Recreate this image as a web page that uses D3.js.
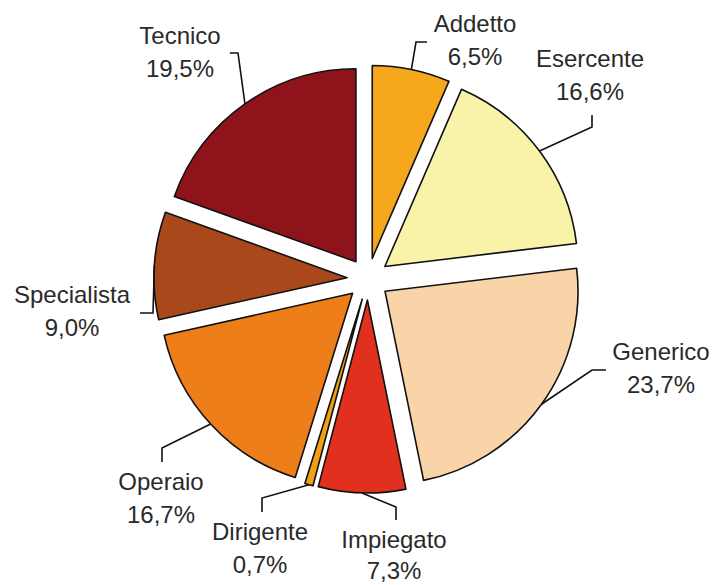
<!DOCTYPE html>
<html>

<head>
    <meta charset="utf-8">
    <style>
        body {
            margin: 0;
            background: white;
        }

        svg {
            display: block;
            font-family: 'Liberation Sans', Arial, sans-serif;
        }

        .label {
            font-size: 24px;
            fill: #2a2a2a;
            text-anchor: middle;
        }
    </style>
</head>

<body>
    <svg width="714" height="585"></svg>
</body>

<script src="https://d3js.org/d3.v7.min.js"></script>

<script>
    // data, clockwise from 12 o'clock
    let categories = ["Addetto", "Esercente", "Generico", "Impiegato", "Dirigente", "Operaio", "Specialista", "Tecnico"];
    let values = [6.5, 16.6, 23.7, 7.3, 0.7, 16.7, 9.0, 19.5];
    let colors = ["#f5a81c", "#f9f2a9", "#f9d4a9", "#e2301f", "#f0a010", "#ee7e1a", "#a9481a", "#8f131b"];

    // where the labels sit (hand placed like in the original)
    let labelPos = [[475, 32], [590, 67], [661, 360], [394, 548], [260, 540], [161, 490], [72, 303], [180, 44]];
    // elbow of each leader line, then its end near the text
    let leaderPts = [
        [[416, 42], [427, 42]],
        [[592, 127], [592, 115]],
        [[592, 370], [606, 370]],
        [[396, 507], [396, 520]],
        [[262, 498], [262, 512]],
        [[162, 448], [162, 462]],
        [[153, 313], [140, 313]],
        [[238, 53], [230, 53]]
    ];

    let cx = 368, cy = 279;
    let r = 193;
    let explode = 21;

    let svg = d3.select("svg");

    let it = d3.formatLocale({ decimal: ",", thousands: ".", grouping: [3], currency: ["", "€"] });
    let fmt = it.format(".1f");

    let rows = categories.map((c, i) => ({ name: c, value: values[i], color: colors[i], i: i }));

    let pie = d3.pie()
        .sort(null)
        .value(d => d.value);

    let arcs = pie(rows);

    let arc = d3.arc()
        .innerRadius(0)
        .outerRadius(r);

    // arc with zero thickness at the rim, used to find where leaders touch
    let rim = d3.arc()
        .innerRadius(r)
        .outerRadius(r);

    function shift(d) {
        let mid = (d.startAngle + d.endAngle) / 2;
        return [explode * Math.sin(mid), -explode * Math.cos(mid)];
    }

    let g = svg.append("g")
        .attr("transform", "translate(" + cx + "," + cy + ")");

    g.selectAll("path.slice")
        .data(arcs)
        .join("path")
        .attr("class", "slice")
        .attr("d", arc)
        .attr("transform", d => "translate(" + shift(d) + ")")
        .style("fill", d => d.data.color)
        .style("stroke", "#111")
        .style("stroke-width", 1.6)
        .style("stroke-linejoin", "round");

    // leader lines
    let line = d3.line();
    svg.append("g")
        .selectAll("path")
        .data(arcs)
        .join("path")
        .attr("d", d => {
            let s = shift(d);
            let c = rim.centroid(d);
            let start = [cx + s[0] + c[0], cy + s[1] + c[1]];
            return line([start].concat(leaderPts[d.data.i]));
        })
        .style("fill", "none")
        .style("stroke", "#111")
        .style("stroke-width", 1.6);

    // labels
    let labels = svg.append("g")
        .selectAll("text")
        .data(arcs)
        .join("text")
        .attr("class", "label")
        .attr("x", d => labelPos[d.data.i][0])
        .attr("y", d => labelPos[d.data.i][1]);

    labels.append("tspan")
        .attr("x", d => labelPos[d.data.i][0])
        .text(d => d.data.name);

    labels.append("tspan")
        .attr("x", d => labelPos[d.data.i][0])
        .attr("dy", d => d.data.name == "Impiegato" ? 31 : 33)
        .text(d => fmt(d.data.value) + "%");
</script>

</html>
